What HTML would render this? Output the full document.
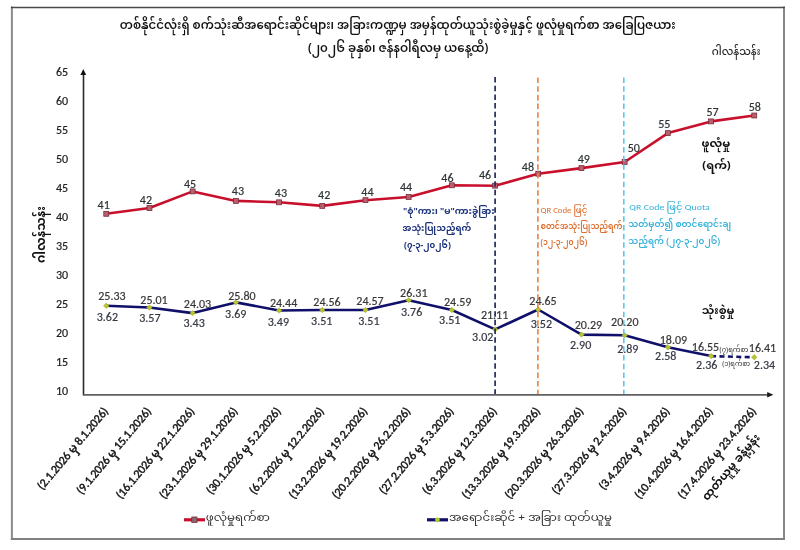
<!DOCTYPE html><html><head><meta charset="utf-8"><style>html,body{margin:0;padding:0;background:#fff;width:800px;height:550px;overflow:hidden}svg{display:block}</style></head><body>
<svg width="800" height="550" viewBox="0 0 800 550" font-family="Carlito, 'Liberation Sans', sans-serif">
<line x1="11.9" y1="6.6" x2="11.9" y2="539.9" stroke="#8c8c8c" stroke-width="2"/>
<line x1="784" y1="6.6" x2="784" y2="539.9" stroke="#888" stroke-width="2"/>
<line x1="10.9" y1="538.9" x2="785" y2="538.9" stroke="#808080" stroke-width="2"/>
<line x1="10.9" y1="7.4" x2="785" y2="7.4" stroke="#4a4a4a" stroke-width="1.5"/>
<g stroke="#222" stroke-width="0.2">
<text x="68.2" y="75.7" font-size="12" fill="#222" text-anchor="end">65</text>
<text x="68.2" y="104.7" font-size="12" fill="#222" text-anchor="end">60</text>
<text x="68.2" y="133.7" font-size="12" fill="#222" text-anchor="end">55</text>
<text x="68.2" y="162.8" font-size="12" fill="#222" text-anchor="end">50</text>
<text x="68.2" y="191.8" font-size="12" fill="#222" text-anchor="end">45</text>
<text x="68.2" y="220.8" font-size="12" fill="#222" text-anchor="end">40</text>
<text x="68.2" y="249.8" font-size="12" fill="#222" text-anchor="end">35</text>
<text x="68.2" y="278.8" font-size="12" fill="#222" text-anchor="end">30</text>
<text x="68.2" y="307.9" font-size="12" fill="#222" text-anchor="end">25</text>
<text x="68.2" y="336.9" font-size="12" fill="#222" text-anchor="end">20</text>
<text x="68.2" y="365.9" font-size="12" fill="#222" text-anchor="end">15</text>
<text x="68.2" y="394.9" font-size="12" fill="#222" text-anchor="end">10</text>
</g>
<text transform="translate(45,234.5) rotate(-90)" font-family="'Noto Sans Myanmar', sans-serif" font-size="12" font-weight="700" fill="#111" text-anchor="middle">ဂါလန်သန်း</text>
<line x1="83.5" y1="74" x2="83.5" y2="395.5" stroke="#2a2a2a" stroke-width="1.6"/>
<path d="M83.3 69 L80.4 75 L86.2 75 Z" fill="#111"/>
<line x1="83" y1="394.8" x2="768.5" y2="394.8" stroke="#606060" stroke-width="1.8"/>
<path d="M773.4 394.8 L767.2 392 L767.2 397.6 Z" fill="#1a1a1a"/>
<polyline points="106.2,213.8 149.4,208.0 192.7,191.4 235.9,200.9 279.1,202.3 322.2,205.9 365.5,200.2 408.7,197.0 451.9,185.3 495.1,185.7 538.2,173.7 581.5,168.1 624.7,162.0 667.9,133.1 711.1,121.4 754.2,115.5" fill="none" stroke="#c8102c" stroke-width="2.6" stroke-linejoin="round"/>
<polyline points="106.2,305.8 149.4,307.5 192.7,313.1 235.9,302.4 279.1,310.5 322.2,310.0 365.5,310.0 408.7,300.2 451.9,310.0 495.1,329.4 538.2,309.5 581.5,334.6 624.7,335.3 667.9,347.3 711.1,356.1" fill="none" stroke="#10106a" stroke-width="2.6" stroke-linejoin="round"/>
<line x1="711.1" y1="356.1" x2="754.2" y2="357.3" stroke="#10106a" stroke-width="2.6" stroke-dasharray="5,3.4"/>
<rect x="103.80" y="211.35" width="4.9" height="4.9" fill="#b86070" stroke="#7a2a3a" stroke-width="0.8"/>
<rect x="147.00" y="205.55" width="4.9" height="4.9" fill="#b86070" stroke="#7a2a3a" stroke-width="0.8"/>
<rect x="190.20" y="188.95" width="4.9" height="4.9" fill="#b86070" stroke="#7a2a3a" stroke-width="0.8"/>
<rect x="233.40" y="198.45" width="4.9" height="4.9" fill="#b86070" stroke="#7a2a3a" stroke-width="0.8"/>
<rect x="276.60" y="199.85" width="4.9" height="4.9" fill="#b86070" stroke="#7a2a3a" stroke-width="0.8"/>
<rect x="319.80" y="203.45" width="4.9" height="4.9" fill="#b86070" stroke="#7a2a3a" stroke-width="0.8"/>
<rect x="363.00" y="197.70" width="4.9" height="4.9" fill="#b86070" stroke="#7a2a3a" stroke-width="0.8"/>
<rect x="406.20" y="194.55" width="4.9" height="4.9" fill="#b86070" stroke="#7a2a3a" stroke-width="0.8"/>
<rect x="449.40" y="182.85" width="4.9" height="4.9" fill="#b86070" stroke="#7a2a3a" stroke-width="0.8"/>
<rect x="492.60" y="183.20" width="4.9" height="4.9" fill="#b86070" stroke="#7a2a3a" stroke-width="0.8"/>
<rect x="535.80" y="171.25" width="4.9" height="4.9" fill="#b86070" stroke="#7a2a3a" stroke-width="0.8"/>
<rect x="579.00" y="165.65" width="4.9" height="4.9" fill="#b86070" stroke="#7a2a3a" stroke-width="0.8"/>
<rect x="622.20" y="159.55" width="4.9" height="4.9" fill="#b86070" stroke="#7a2a3a" stroke-width="0.8"/>
<rect x="665.40" y="130.65" width="4.9" height="4.9" fill="#b86070" stroke="#7a2a3a" stroke-width="0.8"/>
<rect x="708.60" y="118.95" width="4.9" height="4.9" fill="#b86070" stroke="#7a2a3a" stroke-width="0.8"/>
<rect x="751.80" y="113.05" width="4.9" height="4.9" fill="#b86070" stroke="#7a2a3a" stroke-width="0.8"/>
<path d="M106.2 303.1 L109.0 305.8 L106.2 308.5 L103.5 305.8 Z" fill="#b8c430" stroke="#a8b028" stroke-width="0.6" stroke-linejoin="round"/>
<path d="M149.4 304.8 L152.1 307.5 L149.4 310.2 L146.8 307.5 Z" fill="#b8c430" stroke="#a8b028" stroke-width="0.6" stroke-linejoin="round"/>
<path d="M192.7 310.4 L195.3 313.1 L192.7 315.8 L190.0 313.1 Z" fill="#b8c430" stroke="#a8b028" stroke-width="0.6" stroke-linejoin="round"/>
<path d="M235.9 299.7 L238.6 302.4 L235.9 305.1 L233.2 302.4 Z" fill="#b8c430" stroke="#a8b028" stroke-width="0.6" stroke-linejoin="round"/>
<path d="M279.1 307.8 L281.8 310.5 L279.1 313.2 L276.4 310.5 Z" fill="#b8c430" stroke="#a8b028" stroke-width="0.6" stroke-linejoin="round"/>
<path d="M322.2 307.3 L324.9 310.0 L322.2 312.7 L319.6 310.0 Z" fill="#b8c430" stroke="#a8b028" stroke-width="0.6" stroke-linejoin="round"/>
<path d="M365.5 307.3 L368.2 310.0 L365.5 312.7 L362.8 310.0 Z" fill="#b8c430" stroke="#a8b028" stroke-width="0.6" stroke-linejoin="round"/>
<path d="M408.7 297.5 L411.4 300.2 L408.7 302.9 L406.0 300.2 Z" fill="#b8c430" stroke="#a8b028" stroke-width="0.6" stroke-linejoin="round"/>
<path d="M451.9 307.3 L454.6 310.0 L451.9 312.7 L449.2 310.0 Z" fill="#b8c430" stroke="#a8b028" stroke-width="0.6" stroke-linejoin="round"/>
<path d="M495.1 326.7 L497.8 329.4 L495.1 332.1 L492.4 329.4 Z" fill="#b8c430" stroke="#a8b028" stroke-width="0.6" stroke-linejoin="round"/>
<path d="M538.2 306.8 L541.0 309.5 L538.2 312.2 L535.5 309.5 Z" fill="#b8c430" stroke="#a8b028" stroke-width="0.6" stroke-linejoin="round"/>
<path d="M581.5 331.9 L584.2 334.6 L581.5 337.3 L578.8 334.6 Z" fill="#b8c430" stroke="#a8b028" stroke-width="0.6" stroke-linejoin="round"/>
<path d="M624.7 332.6 L627.4 335.3 L624.7 338.0 L622.0 335.3 Z" fill="#b8c430" stroke="#a8b028" stroke-width="0.6" stroke-linejoin="round"/>
<path d="M667.9 344.6 L670.6 347.3 L667.9 350.0 L665.1 347.3 Z" fill="#b8c430" stroke="#a8b028" stroke-width="0.6" stroke-linejoin="round"/>
<path d="M711.1 353.4 L713.8 356.1 L711.1 358.8 L708.4 356.1 Z" fill="#b8c430" stroke="#a8b028" stroke-width="0.6" stroke-linejoin="round"/>
<path d="M754.2 354.6 L757.0 357.3 L754.2 360.0 L751.5 357.3 Z" fill="#b8c430" stroke="#a8b028" stroke-width="0.6" stroke-linejoin="round"/>
<g stroke-width="0.2">
<text x="103.7" y="209.0" font-size="12" fill="#2e3436" text-anchor="middle" stroke="#2e3436">41</text>
<text x="145.9" y="203.7" font-size="12" fill="#2e3436" text-anchor="middle" stroke="#2e3436">42</text>
<text x="190.1" y="188.3" font-size="12" fill="#2e3436" text-anchor="middle" stroke="#2e3436">45</text>
<text x="237.9" y="194.7" font-size="12" fill="#2e3436" text-anchor="middle" stroke="#2e3436">43</text>
<text x="280.9" y="196.9" font-size="12" fill="#2e3436" text-anchor="middle" stroke="#2e3436">43</text>
<text x="324.2" y="199.1" font-size="12" fill="#2e3436" text-anchor="middle" stroke="#2e3436">42</text>
<text x="367.4" y="195.7" font-size="12" fill="#2e3436" text-anchor="middle" stroke="#2e3436">44</text>
<text x="406.0" y="190.8" font-size="12" fill="#2e3436" text-anchor="middle" stroke="#2e3436">44</text>
<text x="447.4" y="182.2" font-size="12" fill="#2e3436" text-anchor="middle" stroke="#2e3436">46</text>
<text x="485.1" y="179.4" font-size="12" fill="#2e3436" text-anchor="middle" stroke="#2e3436">46</text>
<text x="527.9" y="170.8" font-size="12" fill="#2e3436" text-anchor="middle" stroke="#2e3436">48</text>
<text x="583.8" y="163.2" font-size="12" fill="#2e3436" text-anchor="middle" stroke="#2e3436">49</text>
<text x="633.8" y="151.5" font-size="12" fill="#2e3436" text-anchor="middle" stroke="#2e3436">50</text>
<text x="664.3" y="127.7" font-size="12" fill="#2e3436" text-anchor="middle" stroke="#2e3436">55</text>
<text x="712.5" y="116.3" font-size="12" fill="#2e3436" text-anchor="middle" stroke="#2e3436">57</text>
<text x="754.8" y="110.5" font-size="12" fill="#2e3436" text-anchor="middle" stroke="#2e3436">58</text>
<text x="111.9" y="300.1" font-size="12" fill="#383838" text-anchor="middle" stroke="#383838">25.33</text>
<text x="107.4" y="320.9" font-size="12" fill="#363844" text-anchor="middle" stroke="#363844">3.62</text>
<text x="154.0" y="303.8" font-size="12" fill="#383838" text-anchor="middle" stroke="#383838">25.01</text>
<text x="149.9" y="321.6" font-size="12" fill="#363844" text-anchor="middle" stroke="#363844">3.57</text>
<text x="197.5" y="307.8" font-size="12" fill="#383838" text-anchor="middle" stroke="#383838">24.03</text>
<text x="194.1" y="327.3" font-size="12" fill="#363844" text-anchor="middle" stroke="#363844">3.43</text>
<text x="241.9" y="300.3" font-size="12" fill="#383838" text-anchor="middle" stroke="#383838">25.80</text>
<text x="235.7" y="318.0" font-size="12" fill="#363844" text-anchor="middle" stroke="#363844">3.69</text>
<text x="283.6" y="307.2" font-size="12" fill="#383838" text-anchor="middle" stroke="#383838">24.44</text>
<text x="278.4" y="325.6" font-size="12" fill="#363844" text-anchor="middle" stroke="#363844">3.49</text>
<text x="327.0" y="306.3" font-size="12" fill="#383838" text-anchor="middle" stroke="#383838">24.56</text>
<text x="321.7" y="325.0" font-size="12" fill="#363844" text-anchor="middle" stroke="#363844">3.51</text>
<text x="370.0" y="304.5" font-size="12" fill="#383838" text-anchor="middle" stroke="#383838">24.57</text>
<text x="368.9" y="324.6" font-size="12" fill="#363844" text-anchor="middle" stroke="#363844">3.51</text>
<text x="413.8" y="296.5" font-size="12" fill="#383838" text-anchor="middle" stroke="#383838">26.31</text>
<text x="411.6" y="316.1" font-size="12" fill="#363844" text-anchor="middle" stroke="#363844">3.76</text>
<text x="457.7" y="306.0" font-size="12" fill="#383838" text-anchor="middle" stroke="#383838">24.59</text>
<text x="449.7" y="323.9" font-size="12" fill="#363844" text-anchor="middle" stroke="#363844">3.51</text>
<text x="494.6" y="318.9" font-size="12" fill="#383838" text-anchor="middle" stroke="#383838">21.11</text>
<text x="482.7" y="341.2" font-size="12" fill="#363844" text-anchor="middle" stroke="#363844">3.02</text>
<text x="543.0" y="305.1" font-size="12" fill="#383838" text-anchor="middle" stroke="#383838">24.65</text>
<text x="541.4" y="327.5" font-size="12" fill="#363844" text-anchor="middle" stroke="#363844">3.52</text>
<text x="588.4" y="328.5" font-size="12" fill="#383838" text-anchor="middle" stroke="#383838">20.29</text>
<text x="580.6" y="348.5" font-size="12" fill="#363844" text-anchor="middle" stroke="#363844">2.90</text>
<text x="624.8" y="325.7" font-size="12" fill="#383838" text-anchor="middle" stroke="#383838">20.20</text>
<text x="627.8" y="353.0" font-size="12" fill="#363844" text-anchor="middle" stroke="#363844">2.89</text>
<text x="673.4" y="344.0" font-size="12" fill="#383838" text-anchor="middle" stroke="#383838">18.09</text>
<text x="665.7" y="360.0" font-size="12" fill="#363844" text-anchor="middle" stroke="#363844">2.58</text>
<text x="705.5" y="350.7" font-size="12" fill="#383838" text-anchor="middle" stroke="#383838">16.55</text>
<text x="706.7" y="369.0" font-size="12" fill="#363844" text-anchor="middle" stroke="#363844">2.36</text>
<text x="762.5" y="351.5" font-size="12" fill="#383838" text-anchor="middle" stroke="#383838">16.41</text>
<text x="764.5" y="369.2" font-size="12" fill="#363844" text-anchor="middle" stroke="#363844">2.34</text>
</g>
<g font-size="12" fill="#111" stroke="#111" stroke-width="0.42" font-family="Carlito, 'Liberation Sans', 'Noto Sans Myanmar', sans-serif" text-anchor="end" letter-spacing="-0.14">
<text transform="translate(105.5,408.9) rotate(-50)"><tspan dy="0.35em">(2.1.2026 မှ 8.1.2026)</tspan></text>
<text transform="translate(148.6,408.9) rotate(-50)"><tspan dy="0.35em">(9.1.2026 မှ 15.1.2026)</tspan></text>
<text transform="translate(191.8,408.9) rotate(-50)"><tspan dy="0.35em">(16.1.2026 မှ 22.1.2026)</tspan></text>
<text transform="translate(235.1,408.9) rotate(-50)"><tspan dy="0.35em">(23.1.2026 မှ 29.1.2026)</tspan></text>
<text transform="translate(278.2,408.9) rotate(-50)"><tspan dy="0.35em">(30.1.2026 မှ 5.2.2026)</tspan></text>
<text transform="translate(321.4,408.9) rotate(-50)"><tspan dy="0.35em">(6.2.2026 မှ 12.2.2026)</tspan></text>
<text transform="translate(364.7,408.9) rotate(-50)"><tspan dy="0.35em">(13.2.2026 မှ 19.2.2026)</tspan></text>
<text transform="translate(407.9,408.9) rotate(-50)"><tspan dy="0.35em">(20.2.2026 မှ 26.2.2026)</tspan></text>
<text transform="translate(451.1,408.9) rotate(-50)"><tspan dy="0.35em">(27.2.2026 မှ 5.3.2026)</tspan></text>
<text transform="translate(494.2,408.9) rotate(-50)"><tspan dy="0.35em">(6.3.2026 မှ 12.3.2026)</tspan></text>
<text transform="translate(537.5,408.9) rotate(-50)"><tspan dy="0.35em">(13.3.2026 မှ 19.3.2026)</tspan></text>
<text transform="translate(580.7,408.9) rotate(-50)"><tspan dy="0.35em">(20.3.2026 မှ 26.3.2026)</tspan></text>
<text transform="translate(623.9,408.9) rotate(-50)"><tspan dy="0.35em">(27.3.2026 မှ 2.4.2026)</tspan></text>
<text transform="translate(667.1,408.9) rotate(-50)"><tspan dy="0.35em">(3.4.2026 မှ 9.4.2026)</tspan></text>
<text transform="translate(710.3,408.9) rotate(-50)"><tspan dy="0.35em">(10.4.2026 မှ 16.4.2026)</tspan></text>
<text transform="translate(753.5,408.9) rotate(-50)"><tspan dy="0.35em">(17.4.2026 မှ 23.4.2026)</tspan></text>
</g>
<text transform="translate(753.5,408.9) rotate(-50)" x="-59.0" y="19.9" font-size="11.5" font-weight="bold" fill="#111" text-anchor="middle" font-family="'Noto Sans Myanmar', sans-serif"><tspan dy="0.35em">ထုတ်ယူမှု ခန့်မှန်း</tspan></text>
<text x="119.82" y="28.8" font-family="'Noto Sans Myanmar', sans-serif" font-size="12" font-weight="600" fill="#111" textLength="555.83" lengthAdjust="spacingAndGlyphs">တစ်နိုင်ငံလုံးရှိ စက်သုံးဆီအရောင်းဆိုင်များ၊ အခြားကဏ္ဍမှ အမှန်ထုတ်ယူသုံးစွဲခဲ့မှုနှင့် ဖူလုံမှုရက်စာ အခြေပြဇယား</text>
<text x="307.92" y="51.5" font-family="'Noto Sans Myanmar', sans-serif" font-size="12" font-weight="600" fill="#111" textLength="180.40" lengthAdjust="spacingAndGlyphs">(၂၀၂၆ ခုနှစ်၊ ဇန်နဝါရီလမှ ယနေ့ထိ)</text>
<text x="711.87" y="54.8" font-family="'Noto Sans Myanmar', sans-serif" font-size="10" font-weight="500" fill="#222" textLength="48.49" lengthAdjust="spacingAndGlyphs">ဂါလန်သန်း</text>
<text x="205.77" y="521" font-family="'Noto Sans Myanmar', sans-serif" font-size="11.5" font-weight="400" fill="#333" textLength="64.07" lengthAdjust="spacingAndGlyphs">ဖူလုံမှုရက်စာ</text>
<text x="448.97" y="521" font-family="'Noto Sans Myanmar', sans-serif" font-size="11.5" font-weight="400" fill="#333" textLength="163.01" lengthAdjust="spacingAndGlyphs">အရောင်းဆိုင် + အခြား ထုတ်ယူမှု</text>
<text x="403.05" y="214.4" font-family="'Noto Sans Myanmar', sans-serif" font-size="9.5" font-weight="700" fill="#1c327a" textLength="91.54" lengthAdjust="spacingAndGlyphs">"စုံ"ကား၊ "မ"ကားခွဲခြား</text>
<text x="402.59" y="231.4" font-family="'Noto Sans Myanmar', sans-serif" font-size="9.5" font-weight="700" fill="#1c327a" textLength="68.56" lengthAdjust="spacingAndGlyphs">အသုံးပြုသည့်ရက်</text>
<text x="404.00" y="248.4" font-family="'Noto Sans Myanmar', sans-serif" font-size="9.5" font-weight="700" fill="#1c327a" textLength="46.86" lengthAdjust="spacingAndGlyphs">(၇-၃-၂၀၂၆)</text>
<text x="540.50" y="212.7" font-family="Carlito, 'Liberation Sans', 'Noto Sans Myanmar', sans-serif" font-size="9" font-weight="500" fill="#dc6c2c" textLength="46.98" lengthAdjust="spacingAndGlyphs">QR Code ဖြင့်</text>
<text x="540.50" y="228.9" font-family="'Noto Sans Myanmar', sans-serif" font-size="9" font-weight="600" fill="#dc6c2c" textLength="81.92" lengthAdjust="spacingAndGlyphs">စတင်အသုံးပြုသည့်ရက်</text>
<text x="540.50" y="244.5" font-family="'Noto Sans Myanmar', sans-serif" font-size="9" font-weight="600" fill="#dc6c2c" textLength="46.84" lengthAdjust="spacingAndGlyphs">(၁၂-၃-၂၀၂၆)</text>
<text x="629.30" y="209.8" font-family="Carlito, 'Liberation Sans', 'Noto Sans Myanmar', sans-serif" font-size="9" font-weight="500" fill="#36b2da" textLength="80.58" lengthAdjust="spacingAndGlyphs">QR Code ဖြင့် Quota</text>
<text x="628.31" y="227.4" font-family="'Noto Sans Myanmar', sans-serif" font-size="9" font-weight="600" fill="#36b2da" textLength="102.74" lengthAdjust="spacingAndGlyphs">သတ်မှတ်၍ စတင်ရောင်းချ</text>
<text x="628.32" y="243.5" font-family="'Noto Sans Myanmar', sans-serif" font-size="9" font-weight="600" fill="#36b2da" textLength="91.88" lengthAdjust="spacingAndGlyphs">သည့်ရက် (၂၇-၃-၂၀၂၆)</text>
<text x="701.51" y="146.5" font-family="'Noto Sans Myanmar', sans-serif" font-size="10.5" font-weight="700" fill="#111" textLength="28.72" lengthAdjust="spacingAndGlyphs">ဖူလုံမှု</text>
<text x="702.30" y="168.5" font-family="'Noto Sans Myanmar', sans-serif" font-size="10.5" font-weight="700" fill="#111" textLength="28.42" lengthAdjust="spacingAndGlyphs">(ရက်)</text>
<text x="701.72" y="313.8" font-family="'Noto Sans Myanmar', sans-serif" font-size="10.5" font-weight="700" fill="#111" textLength="32.68" lengthAdjust="spacingAndGlyphs">သုံးစွဲမှု</text>
<text x="719.60" y="351.5" font-family="'Noto Sans Myanmar', sans-serif" font-size="6.5" font-weight="400" fill="#333" textLength="28.75" lengthAdjust="spacingAndGlyphs">(၇)ရက်စာ</text>
<text x="722.20" y="365.5" font-family="'Noto Sans Myanmar', sans-serif" font-size="6.5" font-weight="400" fill="#333" textLength="27.78" lengthAdjust="spacingAndGlyphs">(၁)ရက်စာ</text>
<line x1="495.1" y1="77.1" x2="495.1" y2="394" stroke="#222e58" stroke-width="1.7" stroke-dasharray="5.5,3.17"/>
<line x1="537.9" y1="77.6" x2="537.9" y2="394" stroke="#ec8040" stroke-width="1.6" stroke-dasharray="5.5,3.17"/>
<line x1="623.8" y1="77.6" x2="623.8" y2="394" stroke="#58c8ee" stroke-width="1.6" stroke-dasharray="5.5,3.17"/>
<line x1="184" y1="519.8" x2="205" y2="519.8" stroke="#c8102c" stroke-width="3.2"/>
<rect x="191.8" y="517" width="5.2" height="5.4" fill="#8a6a70" stroke="#7a2a3a" stroke-width="0.8"/>
<line x1="427" y1="519.8" x2="448" y2="519.8" stroke="#10106a" stroke-width="3.2"/>
<circle cx="437.4" cy="519.8" r="2.4" fill="#b4c828"/>
</svg></body></html>
